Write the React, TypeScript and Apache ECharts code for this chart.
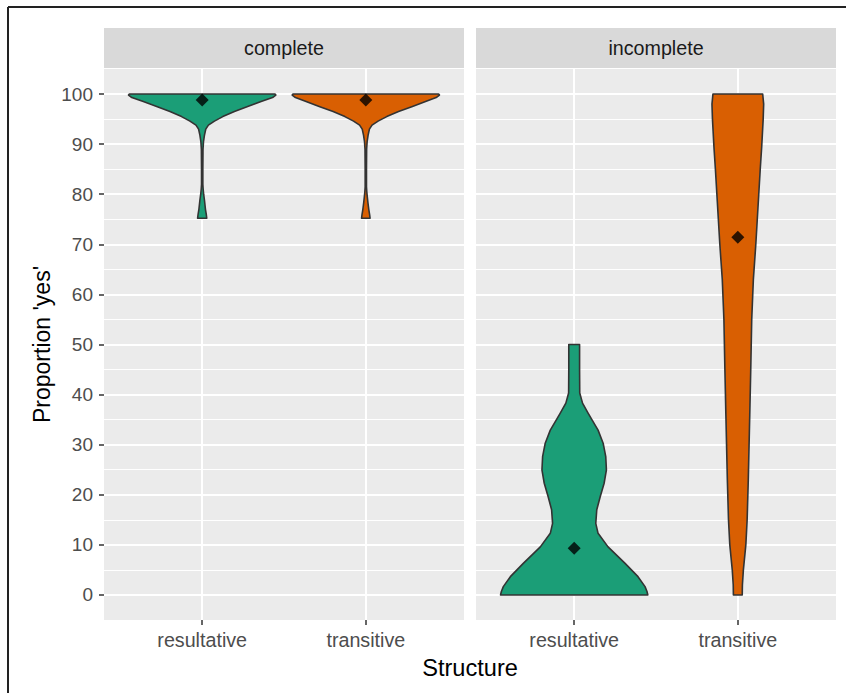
import React, { useEffect, useRef } from "react";
import * as echarts from "echarts";

// ---- data ----
const panels = ["complete", "incomplete"];
const structures = ["resultative", "transitive"];
const yTicks = [0, 10, 20, 30, 40, 50, 60, 70, 80, 90, 100];
const yMinorTicks = [5, 15, 25, 35, 45, 55, 65, 75, 85, 95];
const fillColors = ["#1B9E77", "#D95F02"];

// mean markers (diamonds)
const meanComplete = [98.8, 98.8];
const meanIncomplete = [9.3, 71.4];

// violin outlines: y values and half-widths (x units)
const completeResultativeY = [100, 99.8, 99.3, 98.5, 97.5, 96.5, 95.5, 94.6, 93.8, 93.0, 91.8, 90.5, 89, 85, 82, 81, 80, 78.8, 77, 76, 75.2];
const completeResultativeW = [0.445, 0.45, 0.43, 0.36, 0.278, 0.197, 0.126, 0.075, 0.038, 0.022, 0.014, 0.008, 0.005, 0.004, 0.004, 0.006, 0.009, 0.014, 0.02, 0.025, 0.028];
const completeTransitiveY = [100, 99.8, 99.3, 98.5, 97.5, 96.5, 95.5, 94.6, 93.8, 93.0, 91.8, 90.5, 89, 85, 81.5, 80.5, 79.5, 78.3, 77, 76, 75.2];
const completeTransitiveW = [0.445, 0.45, 0.43, 0.365, 0.285, 0.2, 0.128, 0.075, 0.038, 0.022, 0.014, 0.008, 0.005, 0.004, 0.004, 0.006, 0.009, 0.013, 0.018, 0.023, 0.026];
const incompleteResultativeY = [50, 45, 40.3, 38.3, 36.3, 34.9, 32.9, 30.3, 27.6, 24.95, 22.3, 19.6, 17.0, 14.3, 12.3, 9.6, 6.3, 3.65, 1.66, 0.7, 0];
const incompleteResultativeW = [0.033, 0.033, 0.034, 0.051, 0.085, 0.11, 0.146, 0.177, 0.193, 0.197, 0.183, 0.159, 0.138, 0.132, 0.146, 0.207, 0.311, 0.39, 0.433, 0.445, 0.45];
const incompleteTransitiveY = [100, 98, 95, 89.5, 85, 80, 75, 70, 63, 55, 45, 36, 23, 15, 10, 5, 2, 0];
const incompleteTransitiveW = [0.152, 0.158, 0.155, 0.146, 0.137, 0.128, 0.119, 0.11, 0.095, 0.085, 0.079, 0.073, 0.064, 0.057, 0.049, 0.034, 0.028, 0.027];

const violinsByPanel = [
  [
    { y: completeResultativeY, w: completeResultativeW },
    { y: completeTransitiveY, w: completeTransitiveW },
  ],
  [
    { y: incompleteResultativeY, w: incompleteResultativeW },
    { y: incompleteTransitiveY, w: incompleteTransitiveW },
  ],
];
const meansByPanel = [meanComplete, meanIncomplete];

// ---- layout ----
const W = 846;
const H = 693;
const PANEL_LEFT = [104, 476];
const PANEL_W = 360;
const PANEL_TOP = 69;
const PANEL_H = 551;
const STRIP_TOP = 28;
const STRIP_H = 40;
const FONT = "'Liberation Sans', Arial, sans-serif";

export default function App() {
  const ref = useRef<HTMLDivElement>(null);

  useEffect(() => {
    if (!ref.current) return;
    const chart = echarts.init(ref.current, null, { renderer: "svg" });

    const grids = panels.map((_, p) => ({
      left: PANEL_LEFT[p],
      top: PANEL_TOP,
      width: PANEL_W,
      height: PANEL_H,
      show: true,
      backgroundColor: "#EBEBEB",
      borderWidth: 0,
      containLabel: false,
    }));

    const xAxes = panels.map((_, p) => ({
      type: "value",
      gridIndex: p,
      min: 0.4,
      max: 2.6,
      position: "bottom",
      axisLine: { show: false, onZero: false },
      axisTick: {
        show: true,
        length: 5,
        customValues: [1, 2],
        lineStyle: { color: "#333333", width: 1.5 },
      },
      axisLabel: {
        show: true,
        customValues: [1, 2],
        formatter: (v: number) => structures[Math.round(v) - 1] ?? "",
        color: "#4D4D4D",
        fontSize: 19.7,
        fontFamily: FONT,
        margin: 10,
      },
      splitLine: { show: true, lineStyle: { color: "#FFFFFF", width: 2 } },
    }));

    const yAxes: any[] = [];
    panels.forEach((_, p) => {
      yAxes.push({
        type: "value",
        gridIndex: p,
        min: -5,
        max: 105,
        position: "left",
        axisLine: { show: false, onZero: false },
        axisTick: {
          show: p === 0,
          length: 5,
          customValues: yTicks,
          lineStyle: { color: "#333333", width: 1.5 },
        },
        axisLabel: {
          show: p === 0,
          customValues: yTicks,
          color: "#4D4D4D",
          fontSize: 19,
          fontFamily: FONT,
          margin: 11,
        },
        splitLine: { show: true, lineStyle: { color: "#FFFFFF", width: 2 } },
      });
      yAxes.push({
        type: "value",
        gridIndex: p,
        min: -5,
        max: 105,
        position: "right",
        axisLine: { show: false, onZero: false },
        axisTick: { show: false, customValues: yMinorTicks },
        axisLabel: { show: false, customValues: yMinorTicks },
        splitLine: { show: true, lineStyle: { color: "#FFFFFF", width: 1 } },
      });
    });

    const series: any[] = [];
    panels.forEach((_, p) => {
      const violins = violinsByPanel[p];
      series.push({
        type: "custom",
        xAxisIndex: p,
        yAxisIndex: p * 2,
        data: structures.map((_, i) => [i + 1, i]),
        encode: { x: 0, y: 1 },
        renderItem: (params: any, api: any) => {
          const i = params.dataIndex;
          const x = api.value(0);
          const prof = violins[i];
          const left = prof.y.map((y: number, k: number) => api.coord([x - prof.w[k], y]));
          const right = prof.y.map((y: number, k: number) => api.coord([x + prof.w[k], y])).reverse();
          return {
            type: "polygon",
            shape: { points: left.concat(right) },
            style: { fill: fillColors[i], stroke: "#333333", lineWidth: 1.6, lineJoin: "round" },
          };
        },
        z: 2,
      });
      series.push({
        type: "scatter",
        xAxisIndex: p,
        yAxisIndex: p * 2,
        data: meansByPanel[p].map((m, i) => [i + 1, m]),
        symbol: "diamond",
        symbolSize: 13,
        itemStyle: { color: "#000000" },
        z: 3,
      });
    });

    const graphic: any[] = [
      // outer frame (partial, as in the reference)
      { type: "line", shape: { x1: 8, y1: 7, x2: W, y2: 7 }, style: { stroke: "#222222", lineWidth: 2 } },
      { type: "line", shape: { x1: 8, y1: 7, x2: 8, y2: H }, style: { stroke: "#222222", lineWidth: 2 } },
    ];
    panels.forEach((name, p) => {
      graphic.push({
        type: "rect",
        shape: { x: PANEL_LEFT[p], y: STRIP_TOP, width: PANEL_W, height: STRIP_H },
        style: { fill: "#D9D9D9" },
      });
      graphic.push({
        type: "text",
        x: PANEL_LEFT[p] + PANEL_W / 2,
        y: STRIP_TOP + STRIP_H / 2,
        style: {
          text: name,
          fill: "#1A1A1A",
          font: `19.7px ${FONT}`,
          align: "center",
          verticalAlign: "middle",
        },
      });
    });
    graphic.push({
      type: "text",
      x: (PANEL_LEFT[0] + PANEL_LEFT[1] + PANEL_W) / 2,
      y: 668,
      style: {
        text: "Structure",
        fill: "#000000",
        font: `23.6px ${FONT}`,
        align: "center",
        verticalAlign: "middle",
      },
    });
    graphic.push({
      type: "text",
      x: 42,
      y: PANEL_TOP + PANEL_H / 2,
      rotation: Math.PI / 2,
      style: {
        text: "Proportion 'yes'",
        fill: "#000000",
        font: `23px ${FONT}`,
        align: "center",
        verticalAlign: "middle",
      },
    });

    chart.setOption({
      animation: false,
      backgroundColor: "#FFFFFF",
      grid: grids,
      xAxis: xAxes,
      yAxis: yAxes,
      series,
      graphic,
    });

    return () => chart.dispose();
  }, []);

  return (
    <div
      ref={ref}
      style={{ position: "fixed", left: 0, top: 0, width: W, height: H }}
    />
  );
}
